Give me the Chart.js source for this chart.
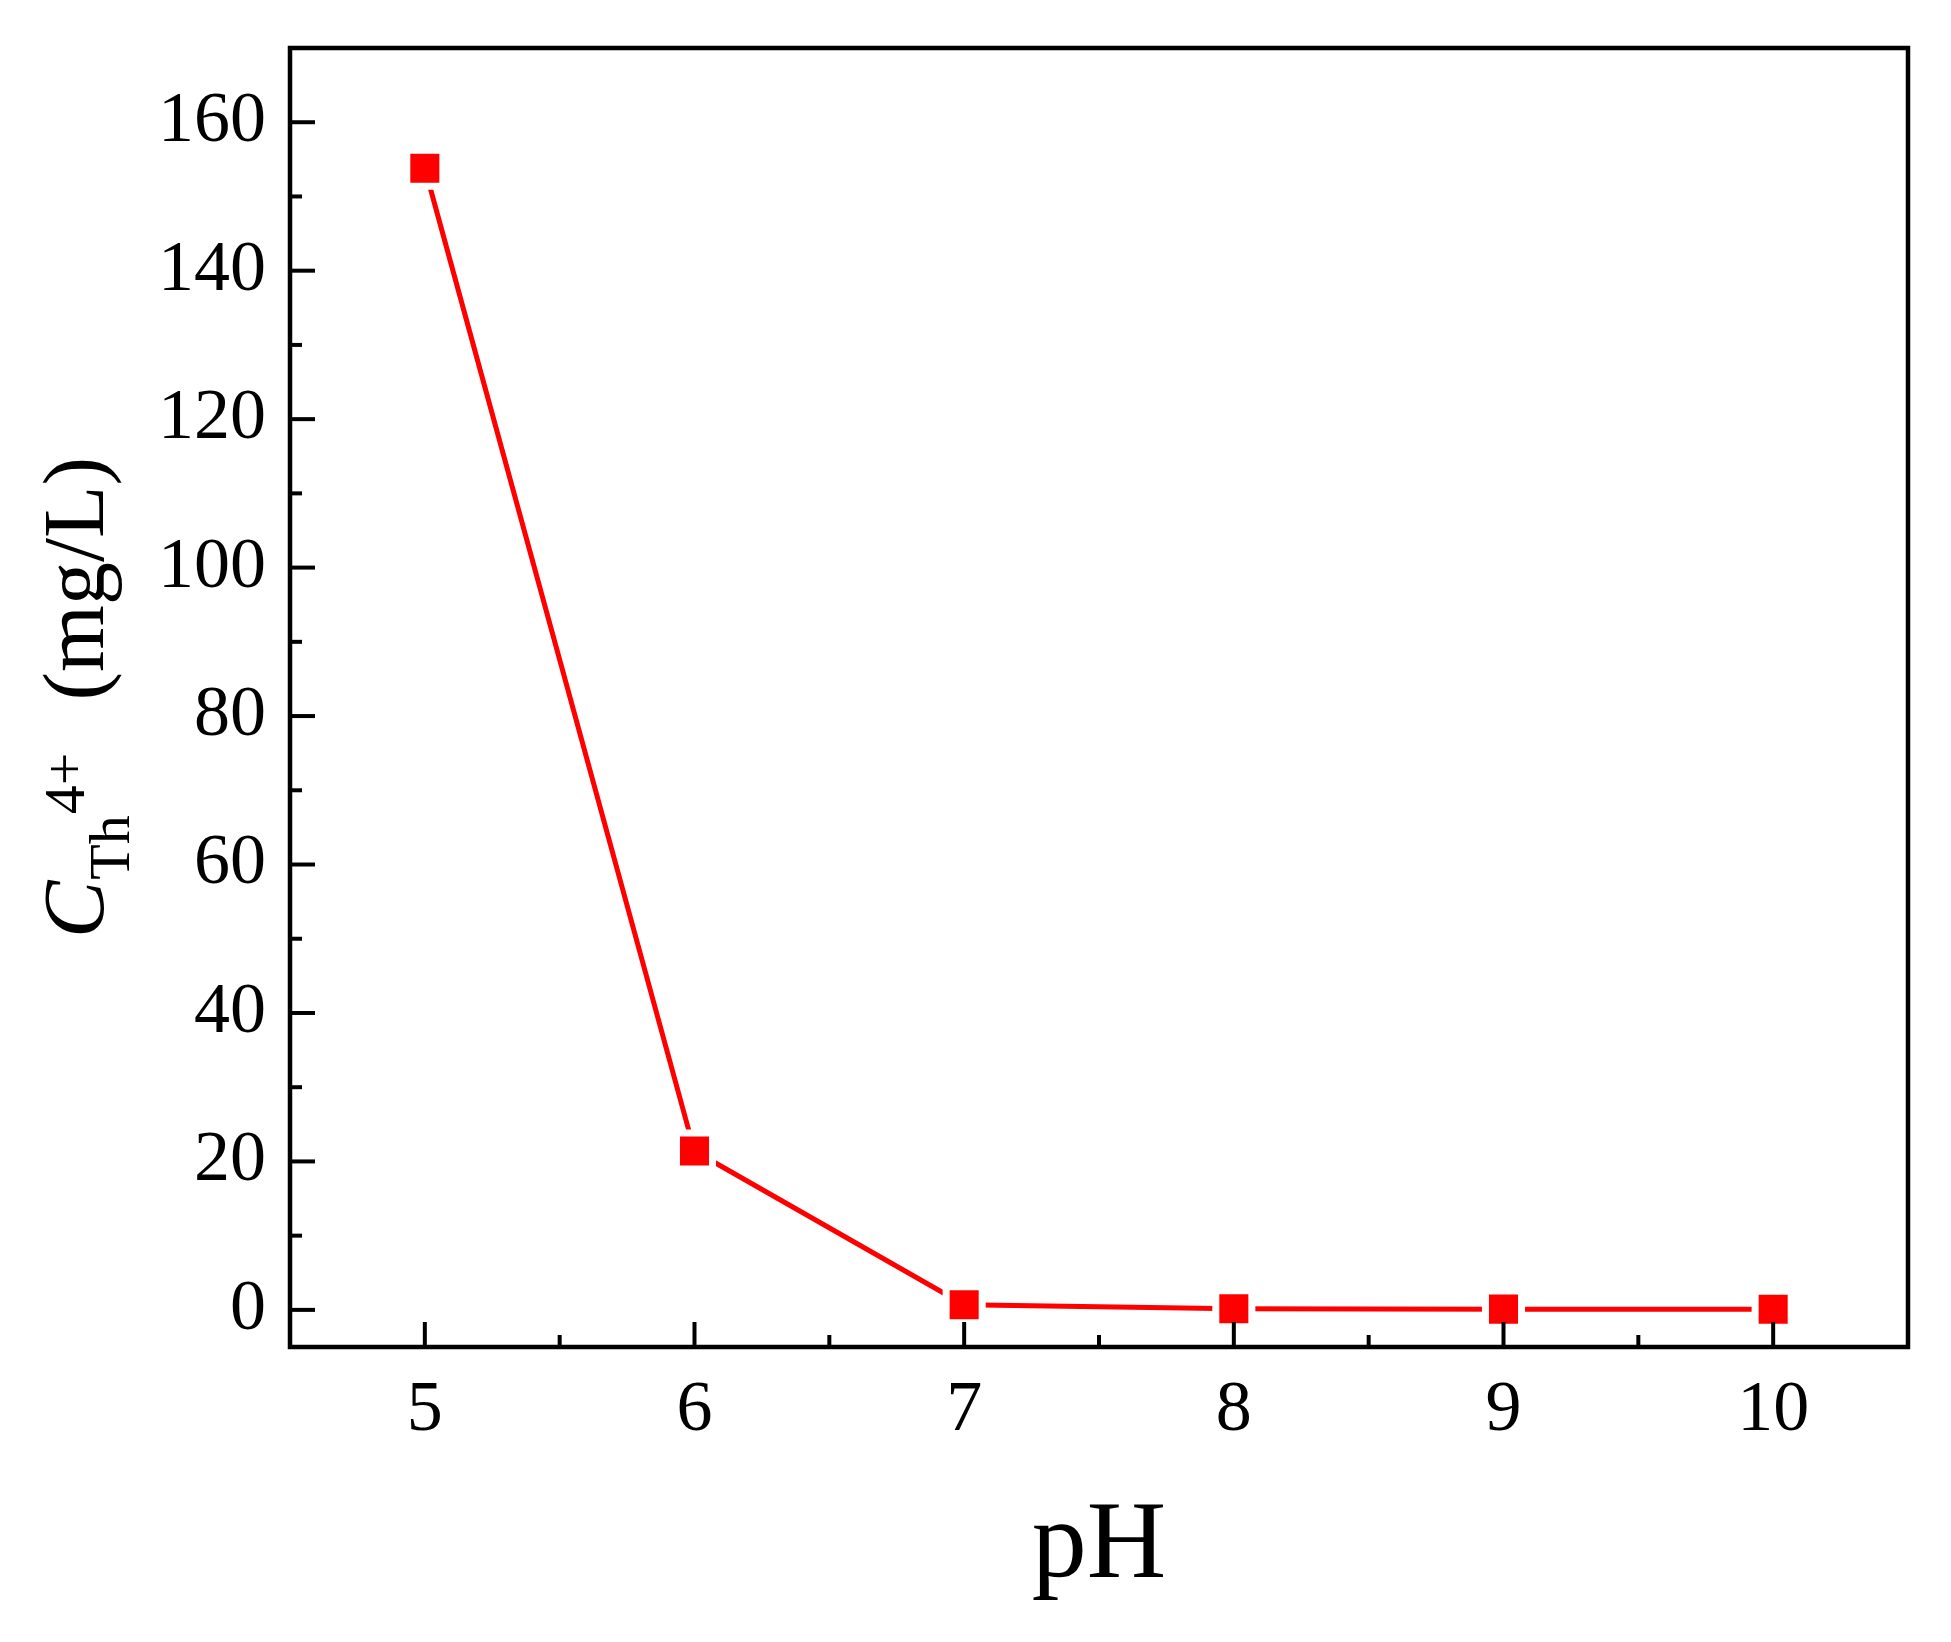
<!DOCTYPE html>
<html>
<head>
<meta charset="utf-8">
<script src="https://cdn.jsdelivr.net/npm/chart.js@4.4.1/dist/chart.umd.min.js"></script>
<style>
html, body { margin: 0; padding: 0; background: #ffffff; }
canvas { display: block; }
</style>
</head>
<body>
<canvas id="chart" width="1951" height="1642"></canvas>
<script>
// ---- data ----
const phValues = [5, 6, 7, 8, 9, 10];
const concentration = [153.8, 21.4, 0.7, 0.15, 0.1, 0.08];
const xTickValues = [5, 5.5, 6, 6.5, 7, 7.5, 8, 8.5, 9, 9.5, 10];
const xMajorTicks = [5, 6, 7, 8, 9, 10];
const yTickValues = [0, 10, 20, 30, 40, 50, 60, 70, 80, 90, 100, 110, 120, 130, 140, 150, 160];
const yMajorTicks = [0, 20, 40, 60, 80, 100, 120, 140, 160];
const xTitle = 'pH';
const yTitleParts = [
  { text: 'C', role: 'main', italic: true },
  { text: 'Th', role: 'sub' },
  { text: '4+', role: 'sup' },
  { text: '(mg/L)', role: 'main', gapBefore: true }
];

const FONT = '"Liberation Serif", "Times New Roman", serif';

const points = phValues.map((x, i) => ({ x: x, y: concentration[i] }));

const frameTicksPlugin = {
  id: 'frameTicks',
  afterDatasetsDraw(chart) {
    const { ctx, chartArea: a, scales } = chart;
    ctx.save();
    ctx.strokeStyle = '#000';
    ctx.lineCap = 'butt';
    ctx.lineWidth = 4;
    const xs = scales.x;
    xs.ticks.forEach(t => {
      const px = xs.getPixelForValue(t.value);
      const len = xMajorTicks.includes(t.value) ? 25 : 12;
      ctx.beginPath();
      ctx.moveTo(px, a.bottom);
      ctx.lineTo(px, a.bottom - len);
      ctx.stroke();
    });
    const ys = scales.y;
    ys.ticks.forEach(t => {
      const py = ys.getPixelForValue(t.value);
      const len = yMajorTicks.includes(t.value) ? 25 : 12;
      ctx.beginPath();
      ctx.moveTo(a.left, py);
      ctx.lineTo(a.left + len, py);
      ctx.stroke();
    });
    ctx.lineWidth = 4.5;
    ctx.lineJoin = 'miter';
    ctx.strokeRect(a.left, a.top, a.right - a.left, a.bottom - a.top);
    ctx.restore();
  },
  afterDraw(chart) {
    const { ctx, chartArea: a } = chart;
    const mainSize = 86, smallSize = 58;
    const fonts = {
      main: (it) => (it ? 'italic ' : '') + mainSize + 'px ' + FONT,
      sub: () => smallSize + 'px ' + FONT,
      sup: () => smallSize + 'px ' + FONT
    };
    const shift = { main: 0, sub: 26, sup: -19 };
    ctx.save();
    ctx.fillStyle = '#000';
    ctx.textBaseline = 'alphabetic';
    ctx.textAlign = 'left';
    const gap = 52;
    const widths = yTitleParts.map(p => {
      ctx.font = fonts[p.role](p.italic);
      return ctx.measureText(p.text).width;
    });
    let total = 0;
    yTitleParts.forEach((p, i) => { total += widths[i] + (p.gapBefore ? gap : (i === 0 ? 0 : 1)); });
    const cy = (a.top + a.bottom) / 2;
    ctx.translate(103, cy);
    ctx.rotate(-Math.PI / 2);
    let x = -total / 2;
    yTitleParts.forEach((p, i) => {
      x += p.gapBefore ? gap : (i === 0 ? 0 : 1);
      ctx.font = fonts[p.role](p.italic);
      ctx.fillText(p.text, x, shift[p.role]);
      x += widths[i];
    });
    ctx.restore();
  }
};

new Chart(document.getElementById('chart'), {
  type: 'line',
  data: {
    datasets: [{
      data: points,
      borderColor: '#ff0000',
      borderWidth: 5,
      borderCapStyle: 'round',
      tension: 0,
      pointStyle: 'rect',
      pointRadius: 25.5,
      pointBackgroundColor: '#ff0000',
      pointBorderColor: '#ffffff',
      pointBorderWidth: 7,
      pointHoverRadius: 25.5,
      clip: false
    }]
  },
  options: {
    responsive: false,
    devicePixelRatio: 1,
    animation: false,
    events: [],
    layout: { padding: { left: 0, top: 48, right: 43, bottom: 0 } },
    plugins: { legend: { display: false }, tooltip: { enabled: false } },
    scales: {
      x: {
        type: 'linear',
        min: 4.5,
        max: 10.5,
        grid: { display: false, drawTicks: false },
        border: { display: false },
        afterBuildTicks: (s) => { s.ticks = xTickValues.map(v => ({ value: v })); },
        afterFit: (s) => { s.height = 295; s.paddingLeft = 0; s.paddingRight = 0; s.paddingTop = 0; s.paddingBottom = 0; },
        ticks: {
          autoSkip: false,
          maxRotation: 0,
          padding: 21,
          color: '#000',
          font: { family: FONT, size: 72 },
          callback: (v) => xMajorTicks.includes(v) ? String(v) : ''
        },
        title: {
          display: true,
          text: xTitle,
          color: '#000',
          font: { family: FONT, size: 110 },
          padding: { top: 0, bottom: 28 }
        }
      },
      y: {
        type: 'linear',
        min: -5,
        max: 170,
        grid: { display: false, drawTicks: false },
        border: { display: false },
        afterBuildTicks: (s) => { s.ticks = yTickValues.map(v => ({ value: v })); },
        afterFit: (s) => { s.width = 290; s.paddingLeft = 0; s.paddingRight = 0; s.paddingTop = 0; s.paddingBottom = 0; },
        ticks: {
          autoSkip: false,
          padding: 24,
          color: '#000',
          font: { family: FONT, size: 72 },
          callback: (v) => yMajorTicks.includes(v) ? String(v) : ''
        }
      }
    }
  },
  plugins: [frameTicksPlugin]
});
</script>
</body>
</html>
